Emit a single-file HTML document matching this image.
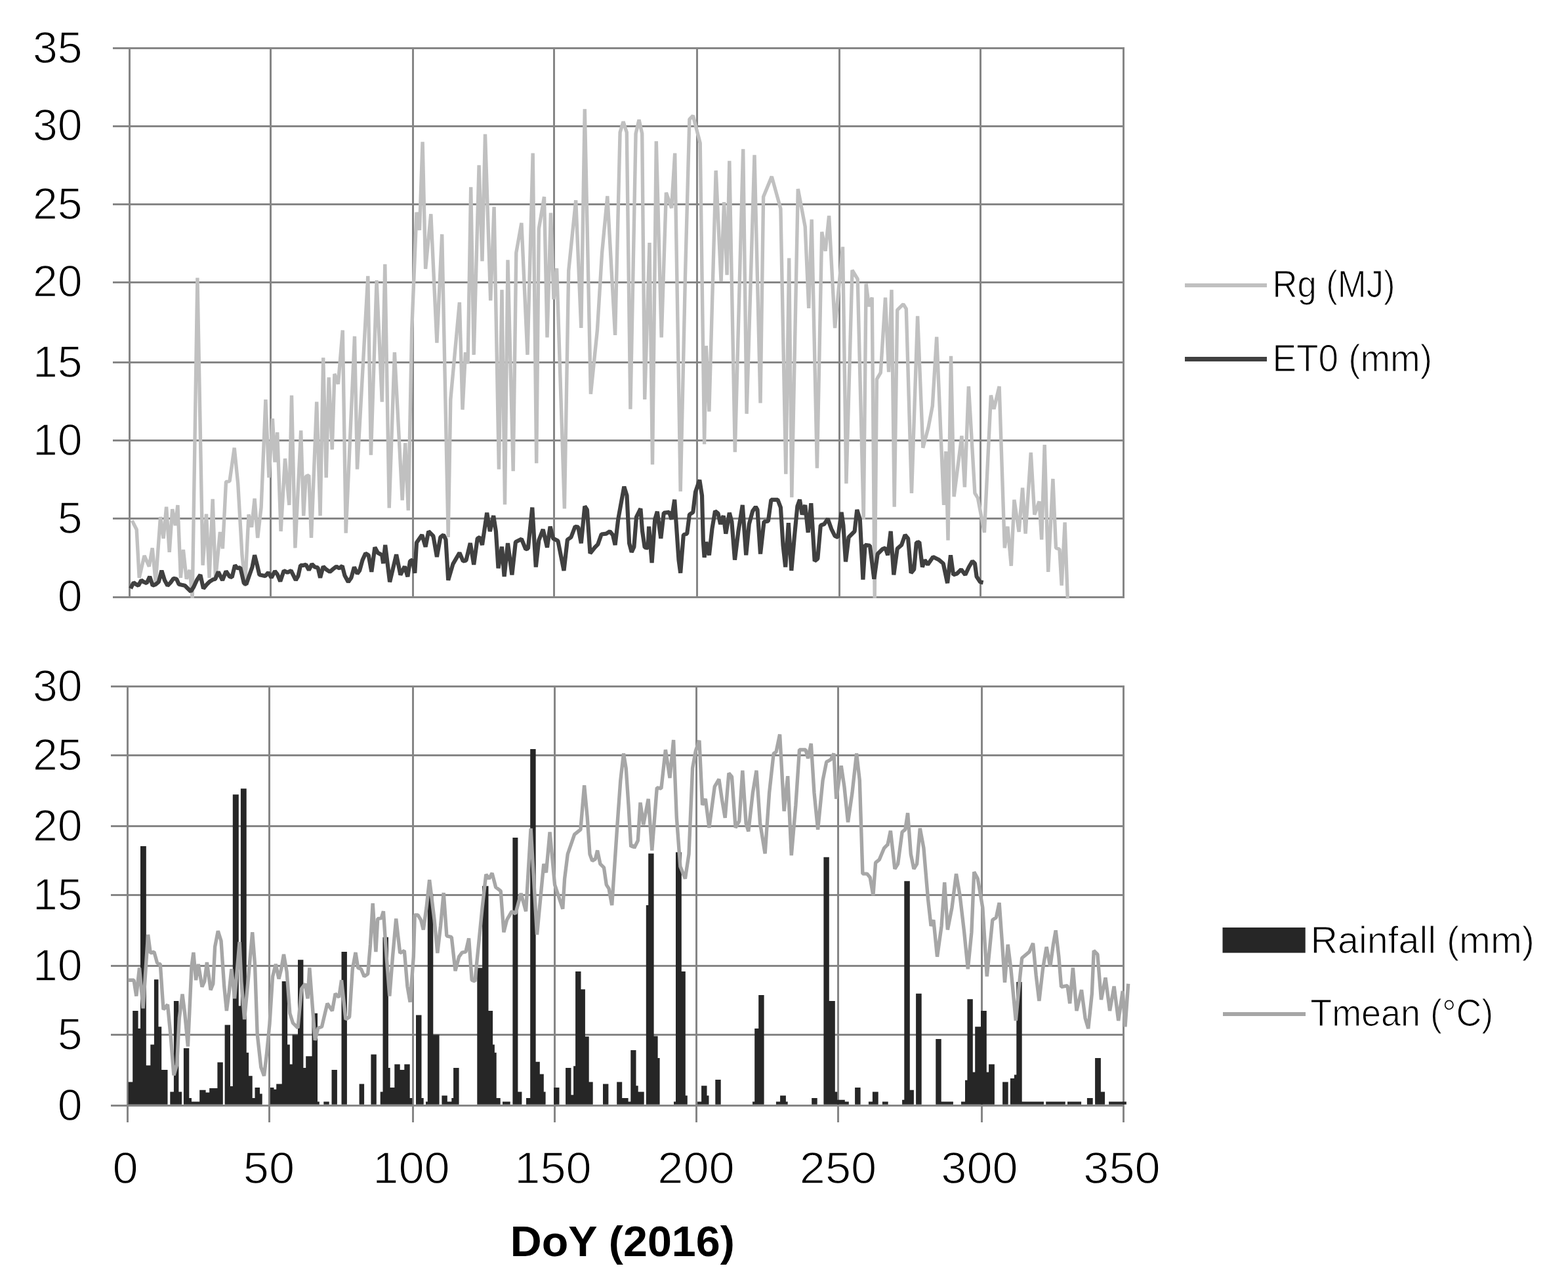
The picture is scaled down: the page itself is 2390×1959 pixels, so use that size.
<!DOCTYPE html>
<html lang="en"><head><meta charset="utf-8"><title>DoY (2016) weather chart</title>
<style>html,body{margin:0;padding:0;background:#fff}body{width:2390px;height:1959px;overflow:hidden}svg{display:block}</style>
</head><body>
<svg width="2390" height="1959" viewBox="0 0 2390 1959">
<rect width="2390" height="1959" fill="#fff"/>
<g id="top">
<rect x="172" y="909" width="1542" height="3" fill="#868686" stroke="none"/>
<rect x="172" y="789" width="1542" height="3" fill="#868686" stroke="none"/>
<rect x="172" y="670" width="1542" height="3" fill="#868686" stroke="none"/>
<rect x="172" y="551" width="1542" height="3" fill="#868686" stroke="none"/>
<rect x="172" y="429" width="1542" height="3" fill="#868686" stroke="none"/>
<rect x="172" y="310" width="1542" height="3" fill="#868686" stroke="none"/>
<rect x="172" y="191" width="1542" height="3" fill="#868686" stroke="none"/>
<rect x="172" y="72" width="1542" height="3" fill="#868686" stroke="none"/>
<rect x="196" y="72" width="3" height="839" fill="#868686" stroke="none"/>
<rect x="411" y="72" width="3" height="839" fill="#868686" stroke="none"/>
<rect x="628" y="72" width="3" height="839" fill="#868686" stroke="none"/>
<rect x="843" y="72" width="3" height="839" fill="#868686" stroke="none"/>
<rect x="1061" y="72" width="3" height="839" fill="#868686" stroke="none"/>
<rect x="1278" y="72" width="3" height="839" fill="#868686" stroke="none"/>
<rect x="1493" y="72" width="3" height="839" fill="#868686" stroke="none"/>
<rect x="1711" y="72" width="3" height="839" fill="#868686" stroke="none"/>
<polyline points="201.3,793.6 208.2,807.2 212.2,880.8 220.0,847.2 227.3,863.6 232.2,835.4 237.3,888.1 244.5,788.1 249.1,820.9 253.6,772.7 258.2,841.8 262.7,776.3 267.3,800.9 270.9,770.0 275.4,880.8 279.4,838.1 284.2,882.7 289.1,869.0 293.2,911.7 300.9,423.6 309.1,861.8 314.5,783.6 319.1,880.8 324.2,760.9 328.5,882.7 335.4,810.9 339.4,836.3 344.5,734.5 350.0,733.6 357.2,682.7 362.7,737.2 369.0,846.3 373.6,893.6 379.0,784.5 383.6,803.6 388.1,760.0 392.7,820.0 398.1,773.6 404.9,609.0 409.9,728.2 415.4,638.2 419.0,704.5 422.7,659.1 428.1,810.0 434.5,699.1 440.8,770.0 444.5,602.7 449.9,835.4 458.7,656.3 462.7,786.3 466.3,726.3 470.8,724.5 474.5,820.0 482.7,612.7 488.1,786.3 492.7,545.4 497.2,728.2 501.2,575.4 506.3,685.4 509.9,570.0 515.4,585.4 522.3,503.6 527.2,812.7 540.5,512.7 544.5,715.4 560.8,420.9 565.4,693.6 574.1,427.3 582.3,612.7 586.8,402.7 593.2,774.5 601.4,537.2 613.2,762.7 617.7,675.4 622.3,778.1 627.7,501.8 635.0,323.6 639.5,350.8 644.1,216.3 648.6,410.0 656.8,326.3 665.9,522.7 673.7,357.2 683.2,819.0 686.8,609.0 700.4,460.9 705.0,624.5 709.5,537.2 713.1,554.5 717.7,285.4 722.2,540.9 730.1,251.8 735.0,398.1 739.5,204.5 747.7,458.2 753.1,315.4 760.4,715.4 765.0,441.8 769.5,769.1 774.0,396.3 782.2,718.2 786.8,385.4 794.9,339.9 804.0,540.9 812.2,233.6 817.7,706.3 821.3,349.0 829.5,300.0 834.0,514.5 839.5,324.5 844.0,456.3 848.6,409.1 860.4,775.4 866.7,412.7 877.7,305.4 885.8,500.0 891.3,166.3 900.4,600.8 910.4,503.6 917.6,385.4 925.8,299.0 937.6,510.9 945.1,201.8 950.0,185.4 955.3,201.8 960.9,623.6 969.1,203.6 974.0,182.7 978.7,203.6 982.7,609.0 990.0,370.0 994.5,708.2 1000.3,215.4 1008.2,514.5 1015.4,293.6 1023.6,317.2 1028.7,233.6 1037.2,749.1 1044.5,420.0 1050.9,181.8 1056.3,176.3 1067.2,218.2 1073.6,677.3 1076.3,527.2 1080.9,627.3 1091.2,260.0 1099.1,429.1 1103.6,308.1 1108.1,419.1 1111.8,245.4 1120.3,689.1 1132.7,227.2 1138.1,630.8 1150.0,236.3 1159.0,614.5 1163.6,300.0 1176.3,269.1 1189.9,318.1 1197.8,722.7 1202.7,393.6 1206.8,758.1 1216.3,288.1 1227.2,345.4 1232.7,470.0 1237.2,334.5 1245.4,713.6 1252.7,353.6 1258.1,382.7 1263.6,329.0 1272.6,500.0 1284.5,376.4 1289.9,737.2 1299.0,411.8 1307.2,425.4 1316.3,791.8 1320.1,432.7 1324.5,467.2 1329.2,453.6 1333.2,911.7 1336.4,578.1 1342.3,568.1 1349.5,453.6 1354.6,567.2 1359.0,441.8 1363.2,772.7 1367.7,472.7 1376.8,463.6 1381.3,470.9 1389.5,751.8 1398.6,481.8 1406.8,682.7 1415.0,651.8 1421.3,619.1 1427.7,513.6 1438.6,770.0 1441.7,688.2 1445.0,823.6 1449.5,542.7 1454.1,757.2 1465.9,664.5 1470.4,742.7 1476.4,589.0 1485.9,751.8 1490.4,759.1 1500.4,811.8 1510.4,602.7 1515.0,623.6 1523.1,589.0 1531.3,835.4 1535.9,802.7 1541.3,862.7 1545.9,761.8 1553.1,810.9 1558.6,743.6 1563.1,813.6 1571.3,690.0 1576.8,784.5 1584.0,764.5 1587.7,822.7 1592.2,678.2 1597.7,871.8 1604.9,730.0 1609.5,835.4 1614.9,837.2 1618.2,892.7 1623.1,796.3 1627.3,912.7" fill="none" stroke="#c0c0c0" stroke-width="5.4" stroke-linejoin="bevel" stroke-linecap="butt"/>
<polyline points="199.1,897.2 203.6,888.1 207.3,890.8 210.9,892.7 215.4,884.5 219.1,887.2 223.6,889.0 228.2,879.0 232.7,892.7 237.3,890.8 241.8,887.2 246.4,869.9 250.9,884.5 255.4,892.7 260.0,888.1 264.5,881.8 269.1,882.7 272.7,890.8 277.3,891.8 281.8,892.7 286.3,897.2 290.9,901.7 295.4,894.5 300.0,884.5 305.4,876.3 310.0,897.2 315.4,890.8 320.0,886.3 324.5,883.6 328.1,882.7 332.7,871.8 339.1,884.5 344.5,870.8 350.0,879.0 353.6,879.9 358.1,861.8 361.8,866.3 366.3,865.4 371.8,889.0 375.4,890.8 380.0,877.2 384.5,864.5 388.1,846.3 391.8,860.8 395.4,876.3 400.0,877.2 404.5,878.1 409.0,872.7 413.6,880.8 419.0,870.8 422.7,875.4 427.2,886.3 432.7,869.9 438.1,872.7 443.6,869.9 447.2,877.2 450.8,884.5 454.5,878.1 458.1,861.8 462.7,861.8 466.3,860.8 470.8,869.0 475.4,859.9 479.9,864.5 484.5,865.4 488.1,880.8 492.7,863.6 497.2,868.1 502.7,871.8 508.1,867.2 512.7,863.6 517.2,866.3 521.7,862.7 525.4,877.2 530.8,887.2 535.4,880.8 539.9,864.5 544.5,874.5 548.1,869.9 552.6,853.6 557.2,843.6 561.7,846.3 566.3,871.8 571.4,834.5 575.9,842.7 582.3,846.3 584.1,859.0 587.2,830.9 594.1,887.2 604.1,845.4 610.4,876.3 616.8,863.6 621.4,879.0 625.0,855.4 628.6,853.6 632.3,873.6 635.0,827.2 643.2,815.4 648.6,833.6 653.2,810.0 660.4,817.2 665.9,849.0 671.3,819.0 675.9,815.4 679.5,822.7 683.2,884.5 690.4,859.9 700.4,842.7 705.9,855.4 710.4,854.5 716.8,828.1 722.2,860.8 727.7,820.9 731.3,819.0 735.0,830.9 742.2,781.8 746.8,810.0 752.2,786.3 755.9,810.0 759.5,866.3 765.0,833.6 768.6,879.0 774.0,828.1 780.4,876.3 785.9,826.3 794.9,821.8 801.3,837.2 804.9,836.3 811.3,773.6 816.8,864.5 821.3,823.6 827.7,807.2 834.0,834.5 838.6,802.7 843.1,820.9 850.4,824.5 859.5,869.9 864.9,822.7 870.4,819.0 876.7,802.7 881.3,803.6 885.8,828.1 891.3,771.8 894.9,777.2 899.5,843.6 906.7,834.5 911.3,829.9 916.7,814.5 924.0,813.6 929.5,810.0 934.0,815.4 937.6,830.9 942.2,791.8 945.5,773.6 951.3,741.8 955.5,755.4 959.1,828.1 962.7,841.8 966.4,833.6 970.0,788.1 976.4,775.4 979.1,810.0 982.7,834.5 987.6,835.4 989.1,802.7 993.6,858.1 998.2,791.8 1001.8,780.0 1007.3,820.9 1011.8,781.8 1020.0,780.9 1023.6,791.8 1028.2,761.8 1030.9,800.9 1034.5,853.6 1037.2,873.6 1041.8,815.4 1047.2,813.6 1050.9,784.5 1056.3,780.9 1060.0,750.0 1066.3,731.8 1070.0,755.4 1071.8,824.5 1073.6,849.9 1076.3,826.3 1080.9,846.3 1085.4,806.3 1090.0,779.1 1094.5,782.7 1098.1,799.0 1102.7,786.3 1106.3,813.6 1111.8,781.8 1115.4,795.4 1120.0,853.6 1125.4,810.0 1131.8,770.0 1137.2,846.3 1141.8,799.0 1147.2,779.1 1151.8,772.7 1154.5,777.2 1159.0,844.5 1164.5,795.4 1170.9,794.5 1175.4,761.8 1185.4,761.8 1189.9,773.6 1193.6,831.8 1197.2,864.5 1201.8,797.2 1206.3,869.9 1210.8,819.0 1215.4,771.8 1219.0,761.8 1222.7,784.5 1227.2,770.0 1231.7,811.8 1236.3,767.2 1241.7,855.4 1246.3,851.8 1250.8,800.9 1256.3,799.0 1261.7,790.9 1267.2,806.3 1272.6,817.2 1277.2,819.0 1282.6,780.9 1285.4,800.9 1289.0,856.3 1293.6,819.0 1302.6,810.0 1306.3,777.2 1310.8,791.8 1315.4,883.6 1318.6,830.9 1325.9,831.8 1332.3,882.7 1337.7,844.5 1345.0,837.2 1349.5,835.4 1353.2,846.3 1357.7,810.0 1362.3,876.3 1367.7,836.3 1374.1,830.9 1379.5,815.4 1384.1,820.9 1388.6,873.6 1393.2,868.1 1396.8,827.2 1401.3,826.3 1405.9,864.5 1409.5,853.6 1414.1,860.8 1422.2,849.0 1431.3,853.6 1437.7,859.0 1444.1,889.0 1449.0,846.3 1453.1,876.3 1458.6,874.5 1465.0,868.1 1471.3,876.3 1476.8,864.5 1482.2,855.4 1485.9,859.0 1488.6,879.0 1494.0,887.2 1498.6,888.1" fill="none" stroke="#404040" stroke-width="6.2" stroke-linejoin="bevel" stroke-linecap="butt"/>
</g>
<g id="bottom">
<rect x="169" y="1684" width="1545" height="3" fill="#868686" stroke="none"/>
<rect x="169" y="1576" width="1545" height="3" fill="#868686" stroke="none"/>
<rect x="169" y="1471" width="1545" height="3" fill="#868686" stroke="none"/>
<rect x="169" y="1363" width="1545" height="3" fill="#868686" stroke="none"/>
<rect x="169" y="1258" width="1545" height="3" fill="#868686" stroke="none"/>
<rect x="169" y="1150" width="1545" height="3" fill="#868686" stroke="none"/>
<rect x="169" y="1045" width="1545" height="3" fill="#868686" stroke="none"/>
<rect x="193" y="1045" width="3" height="666" fill="#868686" stroke="none"/>
<rect x="409" y="1045" width="3" height="666" fill="#868686" stroke="none"/>
<rect x="628" y="1045" width="3" height="666" fill="#868686" stroke="none"/>
<rect x="844" y="1045" width="3" height="666" fill="#868686" stroke="none"/>
<rect x="1060" y="1045" width="3" height="666" fill="#868686" stroke="none"/>
<rect x="1276" y="1045" width="3" height="666" fill="#868686" stroke="none"/>
<rect x="1495" y="1045" width="3" height="666" fill="#868686" stroke="none"/>
<rect x="1711" y="1045" width="3" height="666" fill="#868686" stroke="none"/>
<path d="M195.6 1683.8V1649.6H202.2V1683.8ZM202.2 1683.8V1541.0H210.6V1683.8ZM210.6 1683.8V1568.1H214.3V1683.8ZM214.0 1683.8V1290.0H222.8V1683.8ZM222.8 1683.8V1624.3H229.3V1683.8ZM229.3 1683.8V1592.5H234.9V1683.8ZM234.9 1683.8V1493.3H241.5V1683.8ZM241.5 1683.8V1565.3H246.2V1683.8ZM246.2 1683.8V1630.9H255.5V1683.8ZM259.3 1683.8V1664.6H264.9V1683.8ZM264.9 1683.8V1526.0H272.4V1683.8ZM272.4 1683.8V1664.6H277.1V1683.8ZM279.9 1683.8V1598.1H288.3V1683.8ZM288.3 1683.8V1673.9H292.0V1683.8ZM292.0 1683.8V1679.6H304.2V1683.8ZM304.2 1683.8V1661.8H313.6V1683.8ZM313.6 1683.8V1665.5H319.2V1683.8ZM319.2 1683.8V1659.0H331.4V1683.8ZM331.4 1683.8V1619.6H339.8V1683.8ZM342.6 1683.8V1562.5H351.0V1683.8ZM351.0 1683.8V1656.1H355.7V1683.8ZM354.8 1683.8V1211.3H363.8V1683.8ZM363.2 1683.8V1533.5H366.9V1683.8ZM366.9 1683.8V1202.3H375.7V1683.8ZM375.4 1683.8V1604.7H379.1V1683.8ZM379.1 1683.8V1640.2H384.7V1683.8ZM384.7 1683.8V1673.9H388.5V1683.8ZM388.5 1683.8V1658.0H396.0V1683.8ZM396.0 1683.8V1667.4H399.7V1683.8ZM411.9 1683.8V1658.0H417.5V1683.8ZM417.5 1683.8V1660.8H421.2V1683.8ZM421.2 1683.8V1652.4H429.7V1683.8ZM429.7 1683.8V1496.1H438.1V1683.8ZM438.1 1683.8V1592.5H441.8V1683.8ZM441.8 1683.8V1622.4H445.6V1683.8ZM445.6 1683.8V1577.5H454.0V1683.8ZM454.0 1683.8V1463.3H462.4V1683.8ZM462.4 1683.8V1628.1H466.2V1683.8ZM466.2 1683.8V1610.3H475.5V1683.8ZM475.5 1683.8V1544.7H484.0V1683.8ZM484.0 1683.8V1679.6H486.8V1683.8ZM493.3 1683.8V1679.6H501.7V1683.8ZM505.5 1683.8V1630.9H513.9V1683.8ZM520.5 1683.8V1451.1H528.9V1683.8ZM547.6 1683.8V1652.4H555.1V1683.8ZM565.4 1683.8V1607.5H573.8V1683.8ZM579.7 1683.8V1664.6H583.5V1683.8ZM583.5 1683.8V1428.7H591.9V1683.8ZM591.9 1683.8V1628.1H594.7V1683.8ZM594.7 1683.8V1658.0H601.3V1683.8ZM601.3 1683.8V1622.4H609.7V1683.8ZM609.7 1683.8V1630.9H616.3V1683.8ZM616.3 1683.8V1622.4H624.7V1683.8ZM624.7 1683.8V1673.9H628.4V1683.8ZM634.0 1683.8V1547.6H642.5V1683.8ZM642.5 1683.8V1673.9H645.7V1683.8ZM649.0 1683.8V1679.6H651.8V1683.8ZM651.8 1683.8V1362.8H660.3V1683.8ZM660.3 1683.8V1577.5H669.6V1683.8ZM673.4 1683.8V1670.2H681.8V1683.8ZM681.8 1683.8V1679.6H688.3V1683.8ZM688.3 1683.8V1673.9H691.1V1683.8ZM691.1 1683.8V1628.1H699.6V1683.8ZM727.3 1683.8V1475.5H735.1V1683.8ZM735.1 1683.8V1350.8H744.5V1683.8ZM744.5 1683.8V1541.0H751.1V1683.8ZM751.1 1683.8V1592.5H753.9V1683.8ZM753.9 1683.8V1604.7H756.7V1683.8ZM756.7 1683.8V1673.9H762.7V1683.8ZM766.0 1683.8V1679.6H777.7V1683.8ZM781.4 1683.8V1276.9H789.4V1683.8ZM789.4 1683.8V1664.6H795.4V1683.8ZM802.0 1683.8V1673.9H808.2V1683.8ZM808.2 1683.8V1142.0H816.6V1683.8ZM816.6 1683.8V1618.7H822.8V1683.8ZM822.8 1683.8V1637.4H828.8V1683.8ZM828.8 1683.8V1664.6H831.6V1683.8ZM844.1 1683.8V1658.0H852.5V1683.8ZM862.1 1683.8V1628.1H870.5V1683.8ZM870.5 1683.8V1669.3H874.1V1683.8ZM874.1 1683.8V1625.3H877.1V1683.8ZM877.1 1683.8V1481.1H885.5V1683.8ZM885.5 1683.8V1508.2H891.9V1683.8ZM891.9 1683.8V1580.3H897.7V1683.8ZM897.7 1683.8V1649.6H903.7V1683.8ZM919.0 1683.8V1652.4H927.4V1683.8ZM940.2 1683.8V1649.6H948.2V1683.8ZM948.2 1683.8V1673.9H957.6V1683.8ZM957.6 1683.8V1679.6H961.3V1683.8ZM961.3 1683.8V1600.9H969.2V1683.8ZM969.2 1683.8V1655.2H972.6V1683.8ZM962.0 1683.8V1600.9H969.5V1683.8ZM969.5 1683.8V1655.2H972.7V1683.8ZM972.7 1683.8V1664.6H981.7V1683.8ZM984.8 1683.8V1380.0H988.2V1683.8ZM988.2 1683.8V1301.2H996.6V1683.8ZM996.6 1683.8V1579.4H1002.6V1683.8ZM1002.6 1683.8V1613.1H1005.6V1683.8ZM1027.0 1683.8V1679.6H1030.0V1683.8ZM1030.0 1683.8V1299.3H1038.8V1683.8ZM1038.8 1683.8V1481.1H1044.8V1683.8ZM1044.8 1683.8V1670.2H1047.8V1683.8ZM1063.1 1683.8V1679.6H1069.1V1683.8ZM1069.1 1683.8V1655.2H1077.5V1683.8ZM1077.5 1683.8V1670.2H1080.5V1683.8ZM1090.3 1683.8V1645.9H1098.7V1683.8ZM1147.0 1683.8V1679.6H1150.2V1683.8ZM1150.2 1683.8V1568.1H1156.2V1683.8ZM1156.2 1683.8V1517.0H1164.6V1683.8ZM1182.9 1683.8V1679.6H1189.1V1683.8ZM1189.1 1683.8V1670.2H1197.9V1683.8ZM1197.9 1683.8V1679.6H1200.7V1683.8ZM1237.2 1683.8V1673.9H1245.7V1683.8ZM1255.4 1683.8V1306.8H1263.8V1683.8ZM1263.8 1683.8V1526.0H1272.8V1683.8ZM1272.8 1683.8V1664.6H1276.2V1683.8ZM1276.2 1683.8V1676.7H1287.8V1683.8ZM1287.8 1683.8V1679.6H1293.8V1683.8ZM1303.1 1683.8V1658.0H1311.6V1683.8ZM1323.9 1683.8V1679.6H1329.9V1683.8ZM1329.9 1683.8V1664.6H1338.7V1683.8ZM1344.9 1683.8V1679.6H1353.7V1683.8ZM1348.0 1683.8V1679.6H1353.6V1683.8ZM1375.1 1683.8V1676.7H1378.3V1683.8ZM1378.3 1683.8V1343.3H1386.8V1683.8ZM1386.8 1683.8V1661.8H1392.9V1683.8ZM1396.1 1683.8V1514.8H1404.7V1683.8ZM1426.3 1683.8V1584.1H1434.7V1683.8ZM1434.7 1683.8V1679.6H1452.9V1683.8ZM1465.0 1683.8V1679.6H1471.0V1683.8ZM1471.0 1683.8V1646.8H1474.4V1683.8ZM1474.4 1683.8V1523.2H1482.8V1683.8ZM1482.8 1683.8V1634.6H1486.2V1683.8ZM1486.2 1683.8V1565.3H1495.0V1683.8ZM1495.0 1683.8V1541.0H1503.8V1683.8ZM1503.8 1683.8V1634.6H1507.1V1683.8ZM1507.1 1683.8V1622.4H1515.9V1683.8ZM1528.1 1683.8V1649.6H1536.7V1683.8ZM1539.9 1683.8V1644.0H1545.9V1683.8ZM1545.9 1683.8V1638.4H1549.3V1683.8ZM1549.3 1683.8V1497.0H1557.7V1683.8ZM1557.7 1683.8V1679.6H1591.0V1683.8ZM1594.2 1683.8V1679.6H1623.8V1683.8ZM1627.0 1683.8V1679.6H1648.1V1683.8ZM1656.9 1683.8V1673.9H1665.7V1683.8ZM1669.1 1683.8V1613.1H1677.9V1683.8ZM1677.9 1683.8V1664.6H1684.1V1683.8ZM1690.1 1683.8V1679.6H1716.9V1683.8Z" fill="#262626"/>
<polyline points="195.6,1494.2 204.0,1494.2 207.8,1518.5 212.5,1475.5 218.1,1537.3 225.6,1424.9 229.3,1453.0 234.9,1451.1 239.6,1468.0 244.3,1469.9 249.0,1539.1 255.5,1531.6 260.2,1580.3 264.9,1639.3 269.6,1623.4 273.3,1552.2 278.0,1515.7 281.7,1544.7 286.4,1595.3 292.0,1473.6 294.9,1452.1 298.6,1494.2 302.3,1469.9 308.0,1504.5 311.7,1496.1 315.4,1467.0 321.1,1509.2 324.8,1499.8 327.6,1443.6 332.3,1419.3 337.0,1434.3 341.7,1503.6 345.4,1541.0 349.1,1512.9 352.9,1477.3 357.6,1522.3 365.1,1436.1 367.9,1496.1 372.6,1554.1 379.1,1484.8 384.7,1421.2 388.5,1469.9 392.2,1576.6 397.8,1627.1 402.5,1640.2 406.3,1608.4 410.9,1561.6 415.6,1488.6 420.3,1469.9 425.0,1492.3 428.7,1477.3 432.5,1454.9 437.1,1481.1 441.8,1544.7 446.5,1559.7 454.0,1567.2 459.6,1507.3 465.2,1499.8 469.0,1522.3 471.8,1475.5 476.5,1537.3 480.2,1585.9 484.9,1567.2 490.5,1565.3 498.9,1529.8 506.4,1541.0 511.1,1514.8 516.7,1520.4 520.5,1494.2 527.0,1554.1 532.6,1550.4 537.3,1477.3 542.0,1452.1 545.7,1475.5 550.4,1477.3 555.1,1488.6 560.7,1484.8 564.5,1439.9 568.2,1377.2 572.9,1451.1 575.7,1400.6 581.3,1399.6 584.4,1389.3 589.1,1458.6 593.8,1518.5 598.5,1458.6 603.7,1400.6 609.7,1453.0 616.3,1449.3 620.9,1503.6 625.1,1527.9 630.3,1458.6 632.2,1395.0 636.9,1395.0 641.5,1402.4 645.3,1417.4 650.0,1383.7 654.6,1341.4 662.1,1402.4 666.8,1453.0 671.5,1411.8 676.2,1361.1 680.9,1426.8 688.3,1428.7 694.0,1480.1 699.6,1458.6 704.3,1452.1 709.9,1451.1 714.6,1430.5 719.2,1494.2 723.9,1496.1 729.5,1439.9 735.1,1383.7 740.8,1333.0 745.4,1339.6 750.1,1331.1 755.7,1352.7 763.2,1358.3 767.9,1421.2 772.6,1402.4 780.1,1389.3 785.7,1393.1 794.1,1362.0 801.6,1389.3 809.1,1262.8 818.5,1424.9 828.8,1317.1 832.5,1330.2 838.1,1268.4 845.6,1348.9 857.8,1385.6 860.6,1339.6 865.3,1302.1 875.6,1272.2 884.9,1264.7 890.6,1197.3 895.2,1246.0 899.0,1302.1 902.7,1312.4 907.4,1309.6 910.6,1296.5 914.9,1317.1 920.5,1322.7 924.3,1348.9 928.0,1354.6 932.7,1380.0 941.1,1255.3 945.8,1189.8 950.5,1148.6 954.2,1171.1 958.0,1227.2 961.7,1290.9 965.4,1289.0 966.7,1292.8 972.3,1281.5 976.0,1223.5 980.7,1257.2 988.2,1217.9 993.8,1296.5 1001.3,1201.0 1007.9,1202.0 1014.4,1143.0 1021.0,1186.0 1026.6,1128.0 1031.3,1246.0 1036.9,1320.9 1044.4,1339.6 1050.0,1302.1 1055.6,1171.1 1060.3,1144.9 1065.9,1128.9 1070.6,1227.2 1075.3,1217.9 1080.9,1261.9 1089.3,1199.1 1095.9,1187.9 1100.6,1219.7 1105.2,1246.9 1110.9,1178.6 1115.5,1184.2 1121.1,1261.9 1126.8,1251.6 1131.8,1174.8 1137.1,1255.3 1140.8,1267.5 1147.4,1208.5 1153.0,1174.8 1158.6,1255.3 1166.1,1301.2 1172.6,1208.5 1179.2,1148.6 1182.9,1146.7 1188.6,1119.6 1195.1,1236.6 1200.7,1183.2 1206.3,1304.0 1212.9,1227.2 1218.5,1143.0 1227.9,1143.0 1231.6,1156.1 1236.3,1133.6 1241.0,1208.5 1246.6,1264.7 1254.1,1189.8 1259.7,1161.7 1266.3,1158.0 1270.9,1148.6 1274.7,1217.9 1282.2,1167.3 1286.9,1199.1 1292.5,1253.4 1299.0,1208.5 1305.6,1148.6 1310.3,1189.8 1314.9,1332.1 1321.5,1332.1 1326.2,1337.7 1330.9,1365.0 1334.6,1315.2 1340.2,1310.6 1347.7,1292.8 1353.3,1287.1 1352.7,1289.0 1357.4,1266.6 1363.9,1324.6 1368.6,1317.1 1375.1,1268.4 1379.8,1264.7 1383.6,1239.4 1388.3,1302.1 1392.9,1324.6 1397.6,1317.1 1402.3,1262.8 1407.9,1292.8 1414.5,1370.6 1419.1,1411.8 1422.9,1402.4 1428.5,1458.6 1435.1,1411.8 1439.7,1345.2 1444.4,1417.4 1451.0,1383.7 1457.5,1332.1 1463.1,1365.0 1469.7,1421.2 1475.3,1477.3 1480.9,1421.2 1484.7,1329.3 1490.3,1339.6 1497.8,1383.7 1504.3,1488.6 1512.8,1402.4 1518.4,1398.7 1523.1,1376.2 1527.7,1439.9 1531.5,1497.9 1536.2,1439.9 1540.9,1477.3 1548.3,1556.0 1554.0,1496.1 1557.7,1460.5 1568.9,1451.1 1574.6,1438.0 1579.2,1486.7 1583.9,1526.0 1589.5,1477.3 1595.1,1443.6 1600.8,1473.6 1605.4,1439.9 1609.2,1418.4 1613.9,1458.6 1617.6,1504.5 1627.0,1502.6 1630.7,1529.8 1635.4,1475.5 1641.0,1541.0 1648.5,1509.2 1654.1,1552.2 1658.8,1568.1 1664.4,1514.8 1667.2,1449.3 1672.9,1454.9 1678.5,1524.1 1685.0,1490.4 1691.6,1541.0 1698.1,1503.6 1704.7,1556.0 1711.2,1511.0 1715.0,1565.3 1719.7,1499.8" fill="none" stroke="#a6a6a6" stroke-width="5.4" stroke-linejoin="bevel" stroke-linecap="butt"/>
</g>
<g font-family="'Liberation Sans', sans-serif" font-size="69" fill="#000" stroke="#fff" stroke-width="1.4">
<text transform="translate(125.6,932.4) scale(0.985,1)" text-anchor="end">0</text>
<text transform="translate(125.6,812.6) scale(0.985,1)" text-anchor="end">5</text>
<text transform="translate(125.6,693.6) scale(0.985,1)" text-anchor="end">10</text>
<text transform="translate(125.6,574.5) scale(0.985,1)" text-anchor="end">15</text>
<text transform="translate(125.6,452.4) scale(0.985,1)" text-anchor="end">20</text>
<text transform="translate(125.6,333.6) scale(0.985,1)" text-anchor="end">25</text>
<text transform="translate(125.6,214.3) scale(0.985,1)" text-anchor="end">30</text>
<text transform="translate(125.6,95.5) scale(0.985,1)" text-anchor="end">35</text>
<text transform="translate(125.6,1707.6) scale(0.985,1)" text-anchor="end">0</text>
<text transform="translate(125.6,1599.8) scale(0.985,1)" text-anchor="end">5</text>
<text transform="translate(125.6,1494.8) scale(0.985,1)" text-anchor="end">10</text>
<text transform="translate(125.6,1386.8) scale(0.985,1)" text-anchor="end">15</text>
<text transform="translate(125.6,1281.8) scale(0.985,1)" text-anchor="end">20</text>
<text transform="translate(125.6,1173.9) scale(0.985,1)" text-anchor="end">25</text>
<text transform="translate(125.6,1068.7) scale(0.985,1)" text-anchor="end">30</text>
<text transform="translate(191.0,1803.6) scale(1.02,1)" text-anchor="middle">0</text>
<text transform="translate(410.0,1803.6) scale(1.02,1)" text-anchor="middle">50</text>
<text transform="translate(627.0,1803.6) scale(1.02,1)" text-anchor="middle">100</text>
<text transform="translate(843.0,1803.6) scale(1.02,1)" text-anchor="middle">150</text>
<text transform="translate(1061.0,1803.6) scale(1.02,1)" text-anchor="middle">200</text>
<text transform="translate(1277.5,1803.6) scale(1.02,1)" text-anchor="middle">250</text>
<text transform="translate(1493.0,1803.6) scale(1.02,1)" text-anchor="middle">300</text>
<text transform="translate(1710.0,1803.6) scale(1.02,1)" text-anchor="middle">350</text>
</g>
<text x="777.8" y="1914.5" font-family="'Liberation Sans', sans-serif" font-weight="bold" font-size="65" fill="#000" textLength="342" lengthAdjust="spacingAndGlyphs">DoY (2016)</text>
<g font-family="'Liberation Sans', sans-serif" font-size="57" fill="#000" stroke="#fff" stroke-width="1.2">
<rect x="1806" y="432" width="125" height="6" fill="#c0c0c0" stroke="none"/>
<text x="1939.5" y="452.8" textLength="187" lengthAdjust="spacingAndGlyphs">Rg (MJ)</text>
<rect x="1806" y="544" width="125" height="7" fill="#404040" stroke="none"/>
<text x="1939.5" y="566" textLength="243.4" lengthAdjust="spacingAndGlyphs">ET0 (mm)</text>
<rect x="1863.5" y="1414" width="126.2" height="38.6" fill="#262626" stroke="none"/>
<text x="1997.5" y="1452.8" textLength="341.4" lengthAdjust="spacingAndGlyphs">Rainfall (mm)</text>
<rect x="1864" y="1543" width="126" height="6" fill="#a6a6a6" stroke="none"/>
<text x="1997.3" y="1563.7" textLength="279" lengthAdjust="spacingAndGlyphs">Tmean (°C)</text>
</g>
</svg>
</body></html>
